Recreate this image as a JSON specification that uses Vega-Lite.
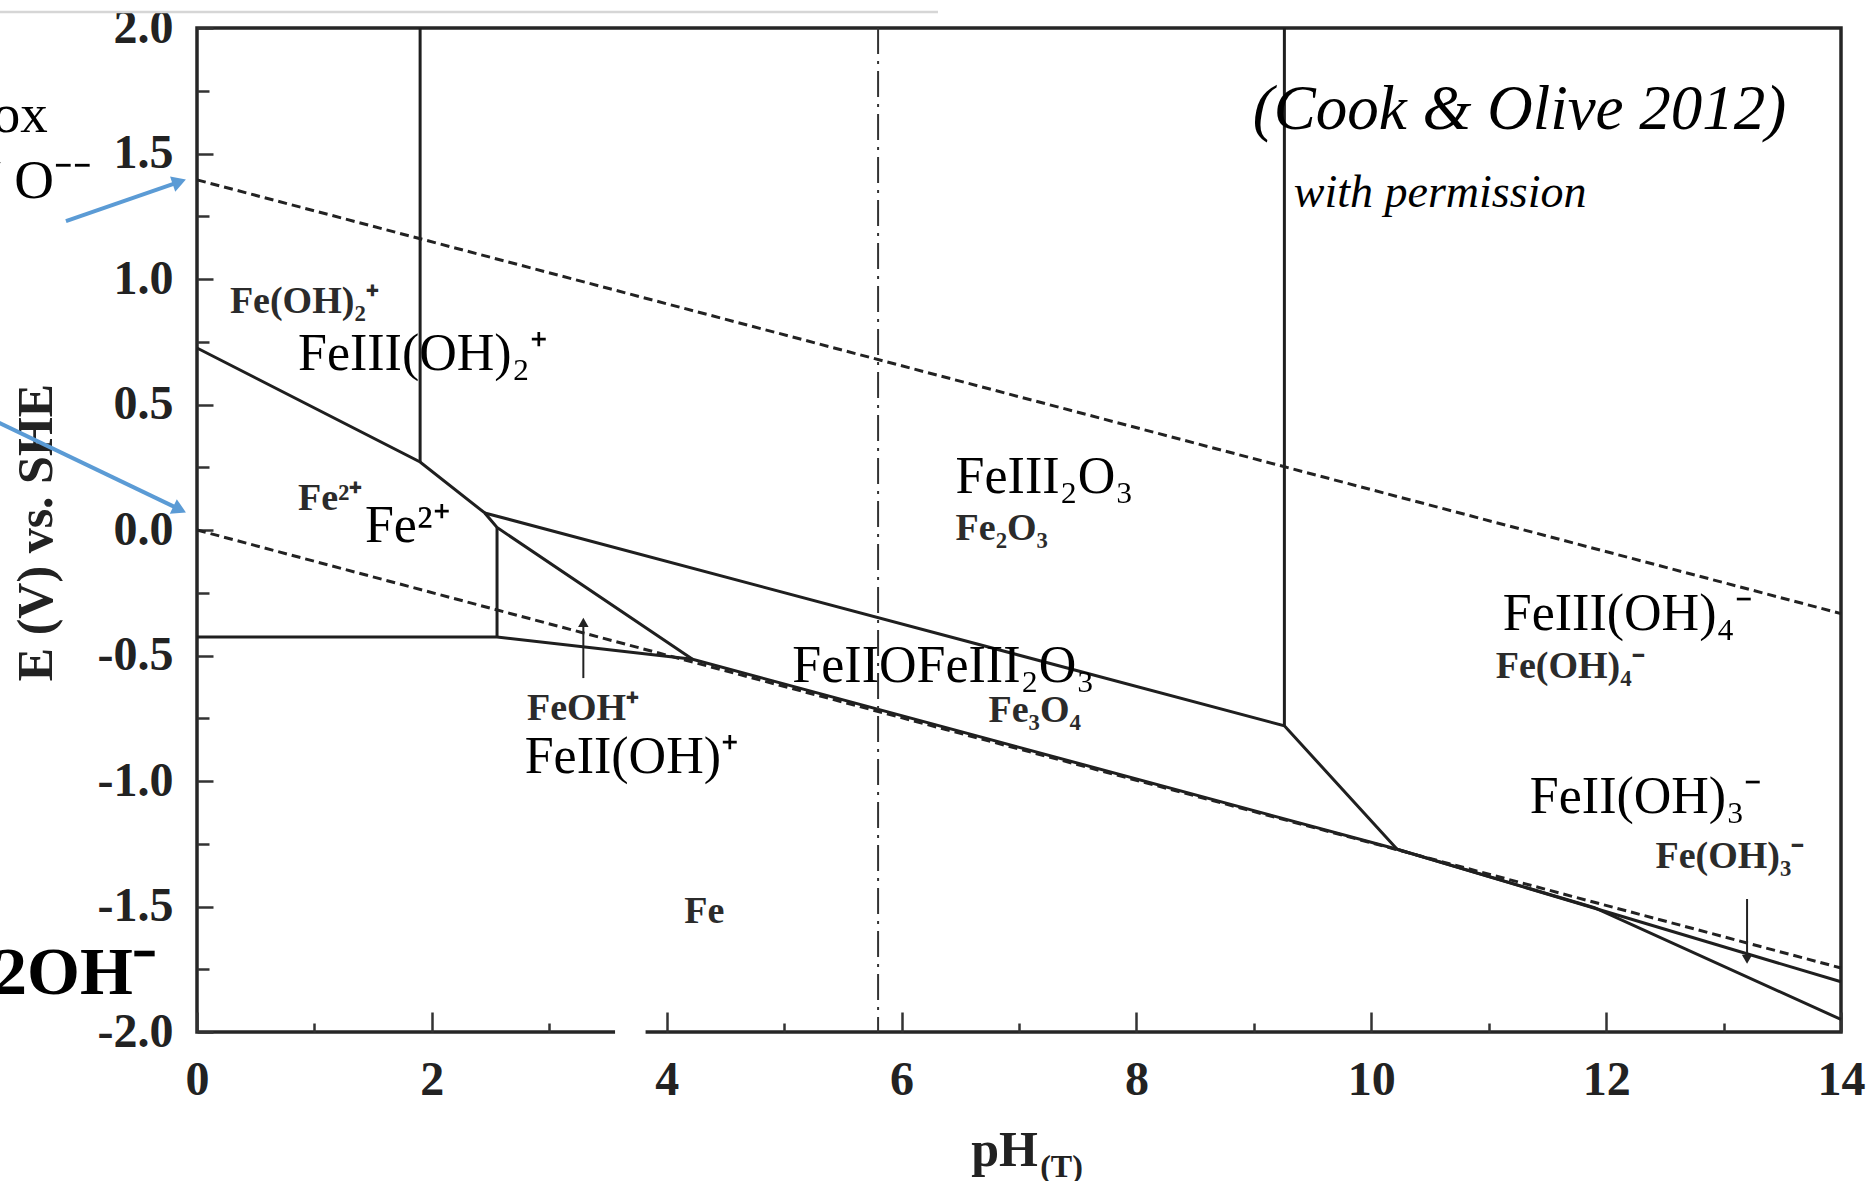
{
  "$schema": "https://vega.github.io/schema/vega-lite/v6.json",
  "width": 1644,
  "height": 1004,
  "autosize": {"type": "none"},
  "padding": {"left": 197, "top": 28, "right": 33, "bottom": 149},
  "background": "white",
  "config": {
    "view": {"stroke": "#262626", "strokeWidth": 3.5},
    "font": "Liberation Serif"
  },
  "datasets": {
    "solid": [
      {"seg": "a", "i": 0, "pH": 0, "E": 0.725},
      {"seg": "a", "i": 1, "pH": 1.9, "E": 0.271},
      {"seg": "a", "i": 2, "pH": 2.45, "E": 0.068},
      {"seg": "a", "i": 3, "pH": 2.555, "E": 0.01},
      {"seg": "a", "i": 4, "pH": 4.22, "E": -0.515},
      {"seg": "b", "i": 0, "pH": 2.45, "E": 0.068},
      {"seg": "b", "i": 1, "pH": 9.26, "E": -0.78},
      {"seg": "b", "i": 2, "pH": 10.22, "E": -1.272},
      {"seg": "c", "i": 0, "pH": 0, "E": -0.426},
      {"seg": "c", "i": 1, "pH": 2.555, "E": -0.426},
      {"seg": "c", "i": 2, "pH": 4.22, "E": -0.515},
      {"seg": "c", "i": 3, "pH": 10.22, "E": -1.272},
      {"seg": "c", "i": 4, "pH": 11.9, "E": -1.505},
      {"seg": "c", "i": 5, "pH": 14, "E": -1.95},
      {"seg": "d", "i": 0, "pH": 10.22, "E": -1.272},
      {"seg": "d", "i": 1, "pH": 14, "E": -1.8},
      {"seg": "e", "i": 0, "pH": 1.9, "E": 0.271},
      {"seg": "e", "i": 1, "pH": 1.9, "E": 2},
      {"seg": "f", "i": 0, "pH": 2.555, "E": 0.01},
      {"seg": "f", "i": 1, "pH": 2.555, "E": -0.426},
      {"seg": "g", "i": 0, "pH": 9.26, "E": -0.78},
      {"seg": "g", "i": 1, "pH": 9.26, "E": 2}
    ],
    "water": [
      {"seg": "O2", "i": 0, "pH": 0, "E": 1.395},
      {"seg": "O2", "i": 1, "pH": 14, "E": -0.333},
      {"seg": "H2", "i": 0, "pH": 0, "E": 0},
      {"seg": "H2", "i": 1, "pH": 14, "E": -1.745}
    ],
    "neutral": [{"pH": 5.8}],
    "arrowShafts": [
      {"pH": 3.29, "E": -0.59, "pH2": 3.29, "E2": -0.37},
      {"pH": 13.2, "E": -1.47, "pH2": 13.2, "E2": -1.7}
    ],
    "headUp": [{"pH": 3.29, "E": -0.368}],
    "headDown": [{"pH": 13.2, "E": -1.71}],
    "blueShafts": [
      {"pH": -1.116, "E": 1.231, "pH2": -0.151, "E2": 1.387},
      {"pH": -1.7, "E": 0.43, "pH2": -0.148, "E2": 0.082}
    ],
    "blueHead1": [{"pH": -0.151, "E": 1.387}],
    "blueHead2": [{"pH": -0.148, "E": 0.082}],
    "topLine": [{"pH": -1.678, "pH2": 6.31, "E": 2.064}],
    "bigLabels": [
      {"label": "FeIII(OH)₂⁺", "pH": 0.86, "E": 0.637},
      {"label": "Fe²⁺", "pH": 1.43, "E": -0.048},
      {"label": "FeIII₂O₃", "pH": 6.46, "E": 0.149},
      {"label": "FeIIOFeIII₂O₃", "pH": 5.07, "E": -0.606},
      {"label": "FeII(OH)⁺", "pH": 2.79, "E": -0.968},
      {"label": "FeIII(OH)₄⁻", "pH": 11.12, "E": -0.398},
      {"label": "FeII(OH)₃⁻", "pH": 11.35, "E": -1.127}
    ],
    "smallLabels": [
      {"label": "Fe(OH)₂⁺", "pH": 0.28, "E": 0.865},
      {"label": "Fe²⁺", "pH": 0.86, "E": 0.08},
      {"label": "FeOH⁺", "pH": 2.81, "E": -0.757},
      {"label": "Fe", "pH": 4.15, "E": -1.566},
      {"label": "Fe₂O₃", "pH": 6.46, "E": -0.04},
      {"label": "Fe₃O₄", "pH": 6.74, "E": -0.765},
      {"label": "Fe(OH)₄⁻", "pH": 11.06, "E": -0.59},
      {"label": "Fe(OH)₃⁻", "pH": 12.42, "E": -1.347}
    ],
    "citation": [{"label": "(Cook & Olive 2012)", "pH": 8.99, "E": 1.598}],
    "permission": [{"label": "with permission", "pH": 9.34, "E": 1.287}],
    "sideText": [
      {"label": "ox", "pH": -1.27, "E": 1.586},
      {"label": "/ O⁻⁻", "pH": -0.895, "E": 1.323}
    ],
    "sideBold": [{"label": "2OH⁻", "pH": -0.35, "E": -1.849}],
    "subT": [{"label": "(T)", "pH": 7.18, "E": -2.578}],
    "patch": [{"pH": 3.56, "pH2": 3.82, "E": -2.03, "E2": -1.98}]
  },
  "layer": [
    {
      "data": {"name": "solid"},
      "mark": {"type": "line", "color": "#1f1f1f", "strokeWidth": 3},
      "encoding": {
        "x": {
          "field": "pH", "type": "quantitative",
          "scale": {"domain": [0, 14], "nice": false, "zero": false},
          "axis": {
            "values": [0, 1, 2, 3, 4, 5, 6, 7, 8, 9, 10, 11, 12, 13, 14],
            "labelExpr": "datum.value % 2 === 0 ? format(datum.value, 'd') : ''",
            "domain": false, "grid": false,
            "tickSize": {"condition": {"test": "datum.value % 2 === 0", "value": -20}, "value": -9},
            "tickWidth": 2.5, "tickColor": "#333",
            "labelFont": "Liberation Serif", "labelFontSize": 48, "labelFontWeight": "bold",
            "labelColor": "#222", "labelPadding": 44, "labelFlush": false, "labelOverlap": false,
            "title": "pH", "titleFont": "Liberation Serif", "titleFontSize": 50, "titleFontWeight": "bold",
            "titleColor": "#222", "titleX": 807, "titleY": 133, "titleBaseline": "alphabetic", "titleAlign": "center"
          }
        },
        "y": {
          "field": "E", "type": "quantitative",
          "scale": {"domain": [-2, 2], "nice": false, "zero": false},
          "axis": {
            "values": [-2, -1.75, -1.5, -1.25, -1, -0.75, -0.5, -0.25, 0, 0.25, 0.5, 0.75, 1, 1.25, 1.5, 1.75, 2],
            "labelExpr": "(datum.value * 2) % 1 === 0 ? (datum.value < 0 ? '-' : '') + format(abs(datum.value), '.1f') : ''",
            "domain": false, "grid": false,
            "tickSize": {"condition": {"test": "(datum.value * 2) % 1 === 0", "value": -16}, "value": -12},
            "tickWidth": 2.5, "tickColor": "#333",
            "labelFont": "Liberation Serif", "labelFontSize": 48, "labelFontWeight": "bold",
            "labelColor": "#222", "labelPadding": 40, "labelFlush": false, "labelOverlap": false,
            "title": "E (V) vs. SHE", "titleFont": "Liberation Serif", "titleFontSize": 50, "titleFontWeight": "bold",
            "titleColor": "#222", "titleX": -161, "titleY": 504, "titleAngle": -90, "titleBaseline": "middle", "titleAlign": "center"
          }
        },
        "detail": {"field": "seg"},
        "order": {"field": "i", "type": "quantitative"}
      }
    },
    {
      "data": {"name": "water"},
      "mark": {"type": "line", "color": "#222", "strokeWidth": 3, "strokeDash": [9, 5]},
      "encoding": {
        "x": {"field": "pH", "type": "quantitative"},
        "y": {"field": "E", "type": "quantitative"},
        "detail": {"field": "seg"},
        "order": {"field": "i", "type": "quantitative"}
      }
    },
    {
      "data": {"name": "neutral"},
      "mark": {"type": "rule", "color": "#333", "strokeWidth": 2, "strokeDash": [26, 7, 3, 7]},
      "encoding": {"x": {"field": "pH", "type": "quantitative"}}
    },
    {
      "data": {"name": "arrowShafts"},
      "mark": {"type": "rule", "color": "#222", "strokeWidth": 2},
      "encoding": {
        "x": {"field": "pH", "type": "quantitative"},
        "y": {"field": "E", "type": "quantitative"},
        "x2": {"field": "pH2"},
        "y2": {"field": "E2"}
      }
    },
    {
      "data": {"name": "headUp"},
      "mark": {"type": "point", "shape": "triangle-up", "filled": true, "size": 110, "color": "#222", "opacity": 1},
      "encoding": {
        "x": {"field": "pH", "type": "quantitative"},
        "y": {"field": "E", "type": "quantitative"}
      }
    },
    {
      "data": {"name": "headDown"},
      "mark": {"type": "point", "shape": "triangle-down", "filled": true, "size": 110, "color": "#222", "opacity": 1},
      "encoding": {
        "x": {"field": "pH", "type": "quantitative"},
        "y": {"field": "E", "type": "quantitative"}
      }
    },
    {
      "data": {"name": "blueShafts"},
      "mark": {"type": "rule", "color": "#5b9bd5", "strokeWidth": 4},
      "encoding": {
        "x": {"field": "pH", "type": "quantitative"},
        "y": {"field": "E", "type": "quantitative"},
        "x2": {"field": "pH2"},
        "y2": {"field": "E2"}
      }
    },
    {
      "data": {"name": "blueHead1"},
      "mark": {"type": "point", "shape": "triangle-right", "filled": true, "size": 260, "angle": 341.3, "color": "#5b9bd5", "opacity": 1},
      "encoding": {
        "x": {"field": "pH", "type": "quantitative"},
        "y": {"field": "E", "type": "quantitative"}
      }
    },
    {
      "data": {"name": "blueHead2"},
      "mark": {"type": "point", "shape": "triangle-right", "filled": true, "size": 260, "angle": 25.7, "color": "#5b9bd5", "opacity": 1},
      "encoding": {
        "x": {"field": "pH", "type": "quantitative"},
        "y": {"field": "E", "type": "quantitative"}
      }
    },
    {
      "data": {"name": "topLine"},
      "mark": {"type": "rule", "color": "#d6d6d6", "strokeWidth": 2.5},
      "encoding": {
        "x": {"field": "pH", "type": "quantitative"},
        "x2": {"field": "pH2"},
        "y": {"field": "E", "type": "quantitative"}
      }
    },
    {
      "data": {"name": "bigLabels"},
      "mark": {"type": "text", "align": "left", "baseline": "alphabetic", "font": "Liberation Serif", "fontSize": 52, "color": "#000"},
      "encoding": {
        "x": {"field": "pH", "type": "quantitative"},
        "y": {"field": "E", "type": "quantitative"},
        "text": {"field": "label"}
      }
    },
    {
      "data": {"name": "smallLabels"},
      "mark": {"type": "text", "align": "left", "baseline": "alphabetic", "font": "Liberation Serif", "fontSize": 38, "fontWeight": "bold", "color": "#2b2b2b"},
      "encoding": {
        "x": {"field": "pH", "type": "quantitative"},
        "y": {"field": "E", "type": "quantitative"},
        "text": {"field": "label"}
      }
    },
    {
      "data": {"name": "citation"},
      "mark": {"type": "text", "align": "left", "baseline": "alphabetic", "font": "Liberation Serif", "fontSize": 63, "fontStyle": "italic", "color": "#000"},
      "encoding": {
        "x": {"field": "pH", "type": "quantitative"},
        "y": {"field": "E", "type": "quantitative"},
        "text": {"field": "label"}
      }
    },
    {
      "data": {"name": "permission"},
      "mark": {"type": "text", "align": "left", "baseline": "alphabetic", "font": "Liberation Serif", "fontSize": 46, "fontStyle": "italic", "color": "#000"},
      "encoding": {
        "x": {"field": "pH", "type": "quantitative"},
        "y": {"field": "E", "type": "quantitative"},
        "text": {"field": "label"}
      }
    },
    {
      "data": {"name": "sideText"},
      "mark": {"type": "text", "align": "right", "baseline": "alphabetic", "font": "Liberation Serif", "fontSize": 55, "color": "#000"},
      "encoding": {
        "x": {"field": "pH", "type": "quantitative"},
        "y": {"field": "E", "type": "quantitative"},
        "text": {"field": "label"}
      }
    },
    {
      "data": {"name": "sideBold"},
      "mark": {"type": "text", "align": "right", "baseline": "alphabetic", "font": "Liberation Serif", "fontSize": 68, "fontWeight": "bold", "color": "#000"},
      "encoding": {
        "x": {"field": "pH", "type": "quantitative"},
        "y": {"field": "E", "type": "quantitative"},
        "text": {"field": "label"}
      }
    },
    {
      "data": {"name": "subT"},
      "mark": {"type": "text", "align": "left", "baseline": "alphabetic", "font": "Liberation Serif", "fontSize": 32, "fontWeight": "bold", "color": "#222"},
      "encoding": {
        "x": {"field": "pH", "type": "quantitative"},
        "y": {"field": "E", "type": "quantitative"},
        "text": {"field": "label"}
      }
    },
    {
      "data": {"name": "patch"},
      "mark": {"type": "rect", "color": "white", "opacity": 1},
      "encoding": {
        "x": {"field": "pH", "type": "quantitative"},
        "x2": {"field": "pH2"},
        "y": {"field": "E", "type": "quantitative"},
        "y2": {"field": "E2"}
      }
    }
  ]
}
